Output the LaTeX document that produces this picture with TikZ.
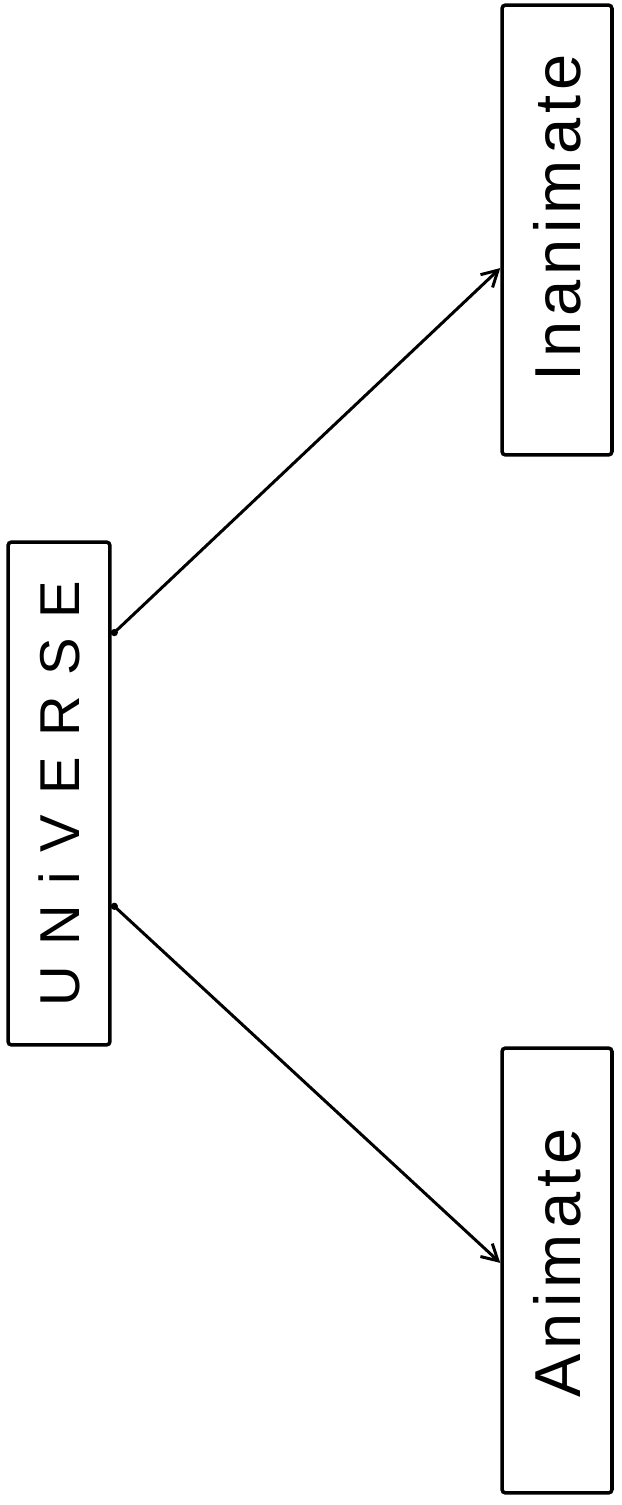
\documentclass[tikz,border=0pt]{standalone}
\usepackage{fontspec}
\setmainfont{Liberation Sans}
\usetikzlibrary{calc,arrows.meta}

\begin{document}
\begin{tikzpicture}[x=0.02cm, y=-0.02cm,
  >={Straight Barb[length=9pt,width=10pt]},
  box/.style={draw, line width=2pt, rounded corners=2pt, rotate=90, inner sep=0pt},
  link/.style={{Circle[length=4pt]}->, line width=1.7pt}]
  \useasboundingbox (0,0) rectangle (622,1505);

  \node [box, minimum width=10.06cm, minimum height=2.04cm] (U) at (59,793.5)
    {\fontsize{32}{38}\selectfont\addfontfeature{LetterSpace=36}UNiVERSE};
  \node [box, minimum width=9cm, minimum height=2.2cm] (In) at (557,230)
    {\fontsize{37}{44}\selectfont\addfontfeature{LetterSpace=8}\hspace*{0.5cm}Inanimate};
  \node [box, minimum width=8.9cm, minimum height=2.2cm] (An) at (557,1270.5)
    {\fontsize{37}{44}\selectfont\addfontfeature{LetterSpace=8}\hspace*{0.3cm}Animate};

  \draw [link] ($(U.south east)!0.187!(U.south west)$) -- ($(In.north east)!0.584!(In.north west)$);
  \draw [link] ($(U.south east)!0.718!(U.south west)$) -- ($(An.north east)!0.483!(An.north west)$);
\end{tikzpicture}
\end{document}
